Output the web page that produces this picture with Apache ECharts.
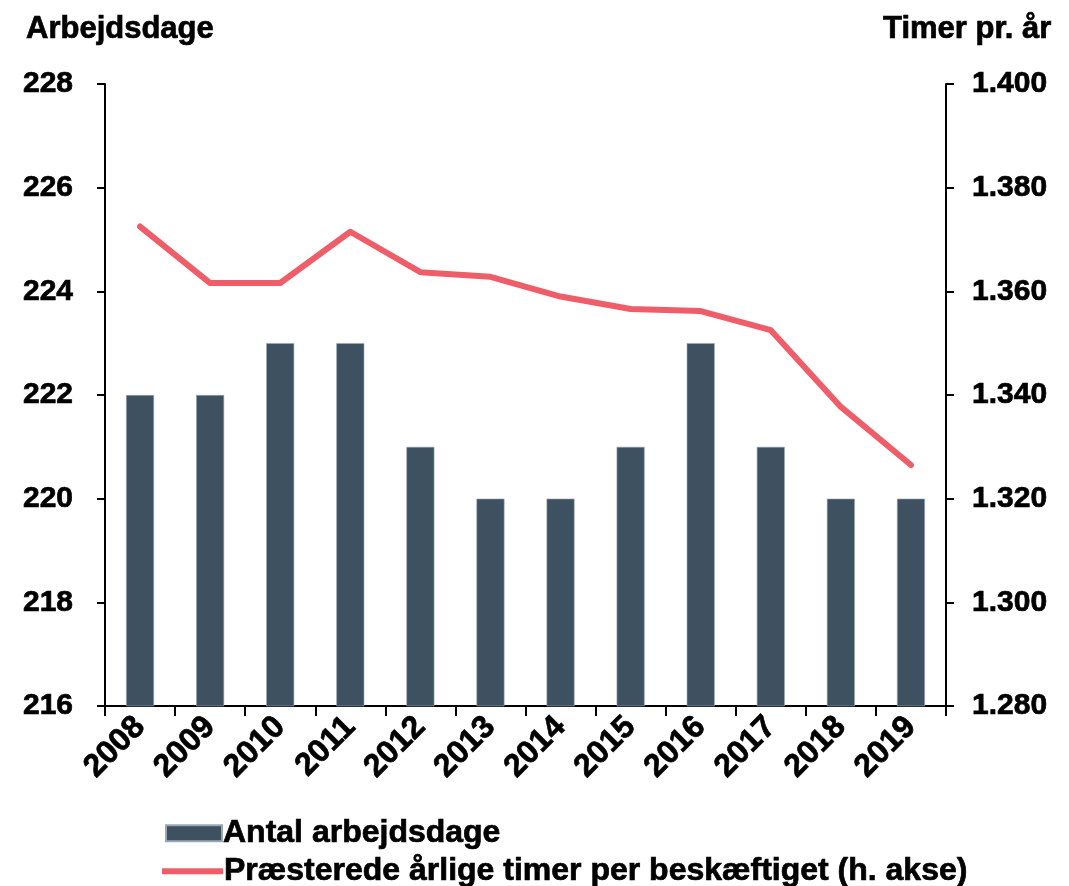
<!DOCTYPE html>
<html>
<head>
<meta charset="utf-8">
<script src="https://cdn.jsdelivr.net/npm/echarts@6/dist/echarts.min.js"></script>
<style>
  html, body { margin: 0; padding: 0; background: #fff; }
  #chart { width: 1069px; height: 886px; }
</style>
</head>
<body>
<div id="chart"></div>
<script>
const years = ['2008', '2009', '2010', '2011', '2012', '2013', '2014', '2015', '2016', '2017', '2018', '2019'];
const workDays = [222, 222, 223, 223, 221, 220, 220, 221, 223, 221, 220, 220];
const hoursPerYear = [1372.5, 1361.6, 1361.6, 1371.5, 1363.7, 1362.8, 1359.0, 1356.6, 1356.2, 1352.5, 1337.7, 1326.5];

const barName = 'Antal arbejdsdage';
const lineName = 'Præsterede årlige timer per beskæftiget (h. akse)';
const font = 'Liberation Sans, Arial, sans-serif';
const barColor = '#3D5161';
const lineColor = '#EF5E68';

// bold black text, a little heavier like the original
function txt(size) {
  return {
    fontSize: size,
    fontWeight: 'bold',
    color: '#000',
    fontFamily: font,
    textBorderColor: '#000',
    textBorderWidth: 0.7
  };
}

// danish thousands separator
function fmtDk(v) {
  const s = String(Math.round(v));
  return s.length > 3 ? s.slice(0, s.length - 3) + '.' + s.slice(-3) : s;
}

const chart = echarts.init(document.getElementById('chart'));
chart.setOption({
  animation: false,
  textStyle: { fontFamily: font, color: '#000' },
  title: [
    { text: 'Arbejdsdage', left: 21, top: 9, textStyle: txt(31) },
    { text: 'Timer pr. år', right: 12, top: 9, textStyle: txt(31) }
  ],
  grid: { left: 105, right: 123, top: 84, bottom: 180, containLabel: false },
  legend: [
    {
      left: 160,
      top: 812,
      itemWidth: 56,
      itemHeight: 16,
      icon: 'rect',
      data: [barName],
      textStyle: Object.assign(txt(32), { padding: [0, 0, 0, -4] })
    },
    {
      left: 157,
      top: 850,
      itemWidth: 61,
      itemHeight: 6,
      icon: 'rect',
      data: [lineName],
      textStyle: Object.assign(txt(32), { padding: [0, 0, 0, -4] })
    }
  ],
  xAxis: {
    type: 'category',
    data: years,
    boundaryGap: true,
    axisLine: { lineStyle: { color: '#000', width: 2 } },
    axisTick: { show: true, length: 10, lineStyle: { color: '#000', width: 2 } },
    axisLabel: Object.assign(txt(32), { rotate: 45, margin: 16 })
  },
  yAxis: [
    {
      type: 'value',
      min: 216,
      max: 228,
      interval: 2,
      splitLine: { show: false },
      axisLine: { show: true, lineStyle: { color: '#000', width: 2 } },
      axisTick: { show: true, length: 8, lineStyle: { color: '#000', width: 2 } },
      axisLabel: Object.assign(txt(30), { margin: 32 })
    },
    {
      type: 'value',
      min: 1280,
      max: 1400,
      interval: 20,
      splitLine: { show: false },
      axisLine: { show: true, lineStyle: { color: '#000', width: 2 } },
      axisTick: { show: true, length: 8, lineStyle: { color: '#000', width: 2 } },
      axisLabel: Object.assign(txt(30), { margin: 26, formatter: fmtDk })
    }
  ],
  series: [
    {
      name: barName,
      type: 'bar',
      data: workDays,
      barWidth: 28,
      itemStyle: { color: barColor, borderColor: '#9aa8b3', borderWidth: 0.6 }
    },
    {
      name: lineName,
      type: 'line',
      yAxisIndex: 1,
      data: hoursPerYear,
      symbol: 'none',
      showSymbol: false,
      lineStyle: { color: lineColor, width: 6, cap: 'round', join: 'round' },
      itemStyle: { color: lineColor }
    }
  ]
});
</script>
</body>
</html>
